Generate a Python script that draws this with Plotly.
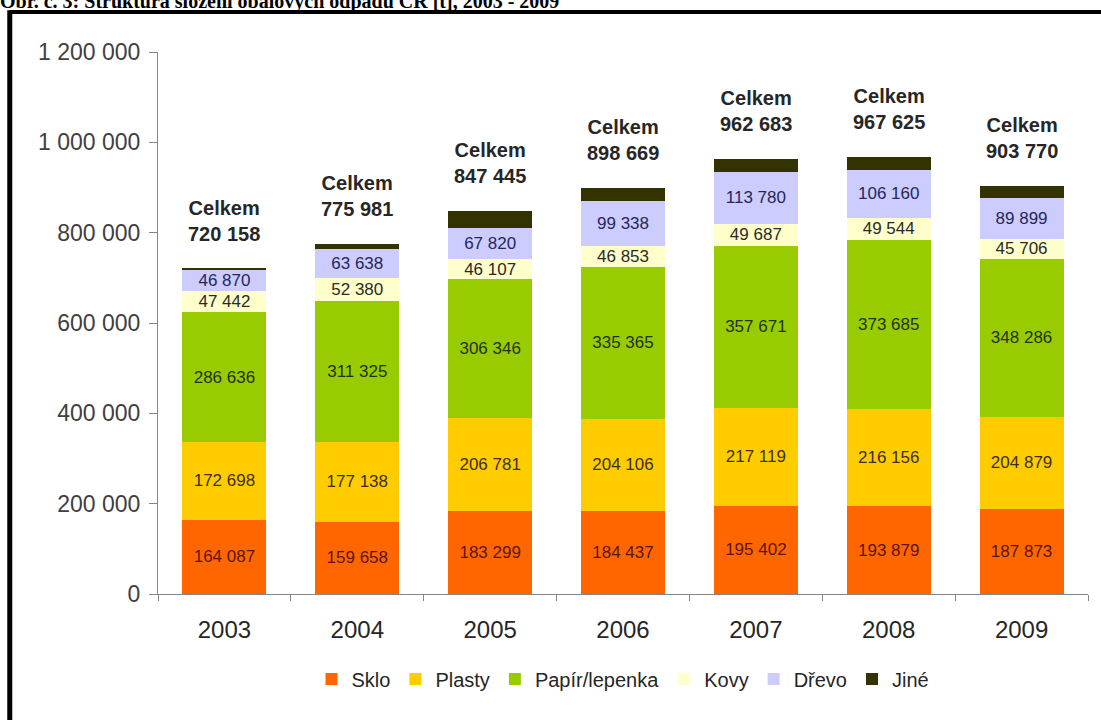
import plotly.graph_objects as go

years = ["2003", "2004", "2005", "2006", "2007", "2008", "2009"]
sklo = [164087, 159658, 183299, 184437, 195402, 193879, 187873]
plasty = [172698, 177138, 206781, 204106, 217119, 216156, 204879]
papir = [286636, 311325, 306346, 335365, 357671, 373685, 348286]
kovy = [47442, 52380, 46107, 46853, 49687, 49544, 45706]
drevo = [46870, 63638, 67820, 99338, 113780, 106160, 89899]
jine = [2425, 11842, 37092, 28570, 29024, 28201, 27127]
celkem = [720158, 775981, 847445, 898669, 962683, 967625, 903770]

series = [
    ("Sklo", sklo, "#ff6600", "#5a1500", True),
    ("Plasty", plasty, "#ffcc00", "#3d3000", True),
    ("Papír/lepenka", papir, "#99cc00", "#1f3300", True),
    ("Kovy", kovy, "#ffffcc", "#2a2a2a", True),
    ("Dřevo", drevo, "#ccccff", "#26265a", True),
    ("Jiné", jine, "#333300", "#ffffff", False),
]

fig = go.Figure()
for name, vals, color, tcolor, lab in series:
    fig.add_trace(go.Bar(
        x=years, y=vals, name=name,
        marker=dict(color=color, line=dict(width=0)),
        texttemplate="%{y:,d}" if lab else None,
        textposition="inside" if lab else "none",
        insidetextanchor="middle",
        textangle=0,
        constraintext="none",
        textfont=dict(family="Liberation Sans, Arial", size=17, color=tcolor),
        hoverinfo="skip",
    ))

annotations = []
for i, tot in enumerate(celkem):
    annotations.append(dict(
        x=i, y=tot, xref="x", yref="y",
        text="<b>Celkem<br>" + f"{tot:,}".replace(",", " ") + "</b>",
        showarrow=False, yanchor="bottom", yshift=22,
        font=dict(family="Liberation Sans, Arial", size=20, color="#262626"),
    ))

# cut-off caption above the frame
annotations.append(dict(
    x=-0.172, y=1.068, xref="paper", yref="paper",
    xanchor="left", yanchor="bottom", showarrow=False,
    text="<b>Obr. č. 3: Struktura složení obalových odpadů ČR [t], 2003 - 2009</b>",
    font=dict(family="Liberation Serif, Times New Roman", size=20, color="#000000"),
))

fig.update_layout(
    width=1101, height=720,
    margin=dict(l=158, r=13, t=52, b=126),
    paper_bgcolor="white", plot_bgcolor="white",
    barmode="stack", bargap=0.367,
    separators=". ",
    showlegend=True,
    legend=dict(
        orientation="h", x=0.5, xanchor="center", y=-0.157, yanchor="middle",
        font=dict(family="Liberation Sans, Arial", size=20, color="#262626"),
        itemwidth=30, traceorder="normal",
    ),
    annotations=annotations,
    shapes=[
        dict(type="line", xref="paper", yref="paper",
             x0=-0.1594, x1=1.2, y0=1.0738, y1=1.0738,
             line=dict(color="black", width=4)),
        dict(type="line", xref="paper", yref="paper",
             x0=-0.1594, x1=-0.1594, y0=1.077, y1=-0.5,
             line=dict(color="black", width=5)),
    ],
)

fig.update_xaxes(
    type="category", range=[-0.5, 6.5],
    showline=True, linecolor="#868686", linewidth=1,
    ticks="outside", tickson="boundaries", ticklen=6, tickcolor="#868686",
    tickfont=dict(family="Liberation Sans, Arial", size=24, color="#262626"),
    ticklabelstandoff=14, showgrid=False,
)
fig.update_yaxes(
    range=[0, 1200000], tickvals=[0, 200000, 400000, 600000, 800000, 1000000, 1200000],
    tickformat=",d",
    showline=True, linecolor="#868686", linewidth=1,
    ticks="outside", ticklen=8, tickcolor="#868686",
    tickfont=dict(family="Liberation Sans, Arial", size=23, color="#404040"),
    ticklabelstandoff=4, showgrid=False, zeroline=False,
)

fig.write_html("out.html")
